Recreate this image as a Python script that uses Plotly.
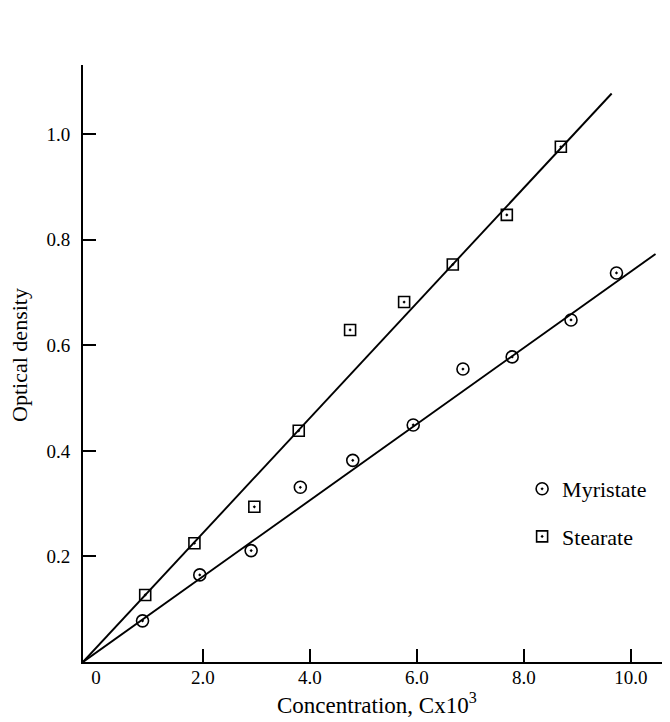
import plotly.graph_objects as go

# Data
stearate_x = [0.92, 1.84, 2.96, 3.79, 4.75, 5.76, 6.67, 7.68, 8.69]
stearate_y = [0.127, 0.225, 0.294, 0.438, 0.629, 0.682, 0.753, 0.847, 0.976]

myristate_x = [0.87, 1.94, 2.90, 3.82, 4.80, 5.93, 6.86, 7.78, 8.88, 9.73]
myristate_y = [0.078, 0.165, 0.211, 0.331, 0.382, 0.449, 0.555, 0.578, 0.648, 0.737]

stearate_fit_x = [-0.243, 9.64]
stearate_fit_y = [0.0, 1.077]
myristate_fit_x = [-0.243, 10.46]
myristate_fit_y = [0.0, 0.773]

x_tickvals = [0, 2, 4, 6, 8, 10]
x_ticktext = ["0", "2.0", "4.0", "6.0", "8.0", "10.0"]
x_tickmarks = [2, 4, 6, 8, 10]
y_tickvals = [0.2, 0.4, 0.6, 0.8, 1.0]
y_ticktext = ["0.2", "0.4", "0.6", "0.8", "1.0"]

FONT = "Liberation Serif"

fig = go.Figure()
fig.add_trace(go.Scatter(x=stearate_fit_x, y=stearate_fit_y, mode="lines",
                         line=dict(color="black", width=1.9), showlegend=False,
                         hoverinfo="skip"))
fig.add_trace(go.Scatter(x=myristate_fit_x, y=myristate_fit_y, mode="lines",
                         line=dict(color="black", width=1.9), showlegend=False,
                         hoverinfo="skip"))
fig.add_trace(go.Scatter(x=myristate_x, y=myristate_y, mode="markers", name="Myristate",
                         legendgroup="m",
                         marker=dict(symbol="circle-open-dot", size=12, color="black",
                                     line=dict(color="black", width=1.6))))
fig.add_trace(go.Scatter(x=stearate_x, y=stearate_y, mode="markers", name="Stearate",
                         legendgroup="s",
                         marker=dict(symbol="square-open-dot", size=11, color="black",
                                     line=dict(color="black", width=1.6))))

fig.update_layout(
    width=670, height=722,
    margin=dict(l=75, r=0, t=57, b=68),
    plot_bgcolor="white", paper_bgcolor="white",
    font=dict(family=FONT, size=19, color="black"),
    xaxis=dict(range=[-0.243, 10.88], tickmode="array", tickvals=x_tickvals,
               ticktext=x_ticktext, ticks="", showgrid=False, zeroline=False,
               showline=True, linecolor="black", linewidth=2,
               ticklabelstandoff=-3,
               tickfont=dict(family=FONT, size=19, color="black"),
               minor=dict(tickmode="array", tickvals=x_tickmarks, ticks="inside",
                          ticklen=13, tickwidth=2, tickcolor="black", showgrid=False)),
    yaxis=dict(range=[0, 1.131], tickmode="array", tickvals=y_tickvals,
               ticktext=y_ticktext, ticks="inside", ticklen=13, tickwidth=2,
               tickcolor="black", showgrid=False, zeroline=False,
               showline=True, linecolor="black", linewidth=2,
               ticklabelstandoff=7,
               tickfont=dict(family=FONT, size=19, color="black")),
    legend=dict(x=0.738, xanchor="left", y=0.325, yanchor="top",
                font=dict(family=FONT, size=22, color="black"),
                tracegroupgap=16, bgcolor="rgba(0,0,0,0)"),
    annotations=[
        dict(text="Optical density", xref="paper", yref="paper", x=-0.108, y=0.514,
             xanchor="center", yanchor="middle", textangle=-90, showarrow=False,
             font=dict(family=FONT, size=22, color="black")),
        dict(text="Concentration, Cx10<sup>3</sup>", xref="paper", yref="paper",
             x=0.494, y=-0.0687, xanchor="center", yanchor="middle", showarrow=False,
             font=dict(family=FONT, size=23, color="black")),
    ],
)

fig.write_html("out.html")
